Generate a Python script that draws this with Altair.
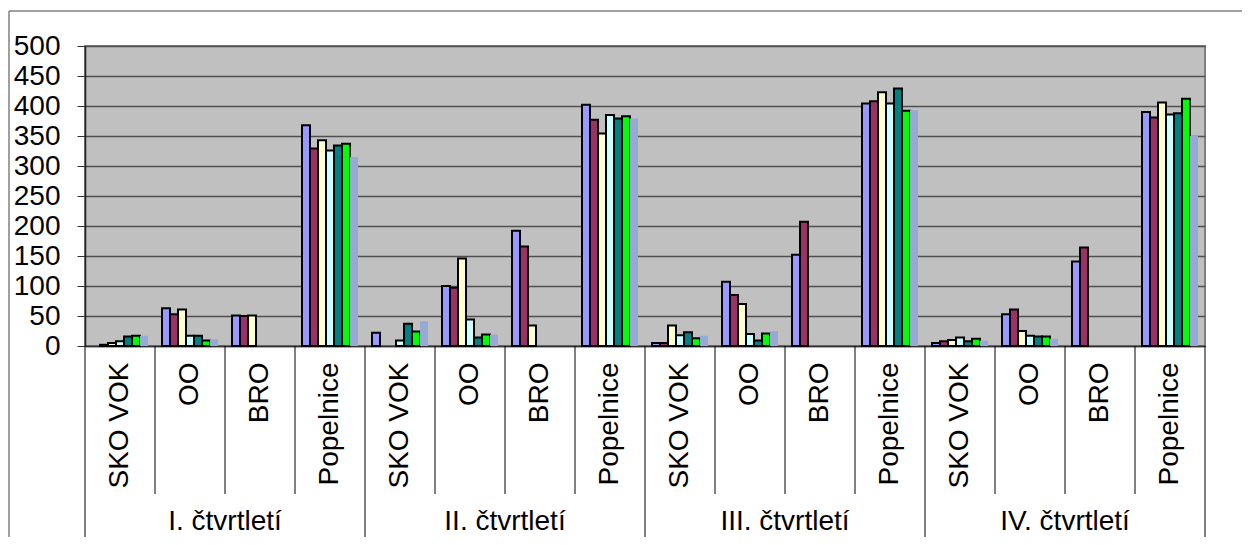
import altair as alt
import pandas as pd

quarters = ["I. čtvrtletí", "II. čtvrtletí", "III. čtvrtletí", "IV. čtvrtletí"]
types = ["SKO VOK", "OO", "BRO", "Popelnice"]
series_names = ["Řada 1", "Řada 2", "Řada 3", "Řada 4", "Řada 5", "Řada 6", "Řada 7"]
colors = ["#9999FF", "#993366", "#FFFFCC", "#CCFFFF", "#008080", "#00FF00", "#97A9D5"]

# values per series, order: Q1 (SKO VOK, OO, BRO, Popelnice), Q2 ..., Q3 ..., Q4 ...
s1 = [0, 63, 51, 368, 22, 100, 192, 402, 5, 107, 152, 404, 5, 53, 141, 390]
s2 = [2, 53, 50, 329, 0, 97, 166, 377, 5, 85, 207, 408, 8, 61, 164, 381]
s3 = [5, 61, 51, 343, 0, 146, 34, 354, 34, 70, 0, 423, 10, 25, 0, 406]
s4 = [8, 17, 0, 326, 9, 44, 0, 385, 18, 20, 0, 404, 14, 17, 0, 386]
s5 = [16, 17, 0, 334, 37, 14, 0, 379, 23, 9, 0, 429, 8, 16, 0, 388]
s6 = [17, 9, 0, 337, 24, 19, 0, 383, 13, 21, 0, 392, 12, 16, 0, 412]
s7 = [17, 11, 0, 315, 41, 19, 0, 379, 17, 25, 0, 393, 9, 12, 0, 350]

FONT = "Liberation Sans"
FS = 28

keys = [f"{q}|{t}" for q in quarters for t in types]
rows = []
for name, vals in zip(series_names, [s1, s2, s3, s4, s5, s6, s7]):
    for k, v in zip(keys, vals):
        rows.append({"key": k, "series": name, "value": v})
df = pd.DataFrame(rows)

x_scale = alt.Scale(domain=keys, paddingInner=0, paddingOuter=0)
x_axis = alt.Axis(title=None, labelAngle=-90,
                  labelExpr="split(datum.label, '|')[1]",
                  labelFontSize=FS, labelFont=FONT, labelColor="black",
                  labelPadding=16, ticks=False, domain=True,
                  domainColor="#333333", domainWidth=1.5,
                  labelLimit=400, labelOverlap=False, grid=False)

bars = alt.Chart(df).transform_filter("datum.value > 0").mark_bar(strokeWidth=2).encode(
    x=alt.X("key:N", scale=x_scale, sort=keys, axis=x_axis),
    xOffset=alt.XOffset("series:N", scale=alt.Scale(domain=series_names, paddingInner=0, paddingOuter=0.875)),
    y=alt.Y("value:Q", scale=alt.Scale(domain=[0, 500], nice=False),
            axis=alt.Axis(title=None, values=list(range(0, 501, 50)),
                          labelFontSize=FS, labelFont=FONT, labelColor="black",
                          labelPadding=17, tickSize=8, tickColor="#333333",
                          domainColor="#222222", domainWidth=1.5,
                          grid=True, gridColor="#505050", gridWidth=1.5)),
    color=alt.Color("series:N", scale=alt.Scale(domain=series_names, range=colors), legend=None),
    stroke=alt.Stroke("series:N", scale=alt.Scale(domain=series_names, range=["#000000"] * 6 + ["transparent"]), legend=None),
)

sep_df = pd.DataFrame({"key": [k for k in keys if not k.endswith("|SKO VOK")]})
qsep_df = pd.DataFrame({"key": [k for k in keys if k.endswith("|SKO VOK")]})
end_df = pd.DataFrame({"key": [keys[-1]]})
qlab_df = pd.DataFrame({"key": [f"{q}|BRO" for q in quarters], "label": quarters})

inner = alt.Chart(sep_df).mark_rule(color="black", strokeWidth=1).encode(
    x=alt.X("key:N", bandPosition=0, scale=x_scale, sort=keys, axis=x_axis),
    y=alt.value(300), y2=alt.value(448))

outer = alt.Chart(qsep_df).mark_rule(color="black", strokeWidth=1).encode(
    x=alt.X("key:N", bandPosition=0, scale=x_scale, sort=keys, axis=x_axis),
    y=alt.value(300), y2=alt.value(520))

end_rule = alt.Chart(end_df).mark_rule(color="black", strokeWidth=1).encode(
    x=alt.X("key:N", bandPosition=1, scale=x_scale, sort=keys, axis=x_axis),
    y=alt.value(300), y2=alt.value(520))

qlabels = alt.Chart(qlab_df).mark_text(fontSize=FS, font=FONT, color="black", baseline="alphabetic", align="center").encode(
    x=alt.X("key:N", bandPosition=0, scale=x_scale, sort=keys, axis=x_axis),
    y=alt.value(484),
    text="label:N")

frame_df = pd.DataFrame({"a": [0]})
border_left = alt.Chart(frame_df).mark_rule(color="#808080", strokeWidth=1.5).encode(
    x=alt.value(-76), y=alt.value(-35), y2=alt.value(700))
border_top = alt.Chart(frame_df).mark_rule(color="#808080", strokeWidth=1.5).encode(
    x=alt.value(-76), x2=alt.value(1300), y=alt.value(-35))

chart = alt.layer(border_left, border_top, bars, inner, outer, end_rule, qlabels).properties(
    width=1120, height=300,
    background="white",
    autosize=alt.AutoSizeParams(type="none"),
    padding={"left": 77, "top": 38, "right": 37, "bottom": 191},
).configure_view(
    fill="#C0C0C0", stroke="#808080", strokeWidth=2
)

chart.save("out.html", embed_options={"renderer": "svg", "actions": False})
